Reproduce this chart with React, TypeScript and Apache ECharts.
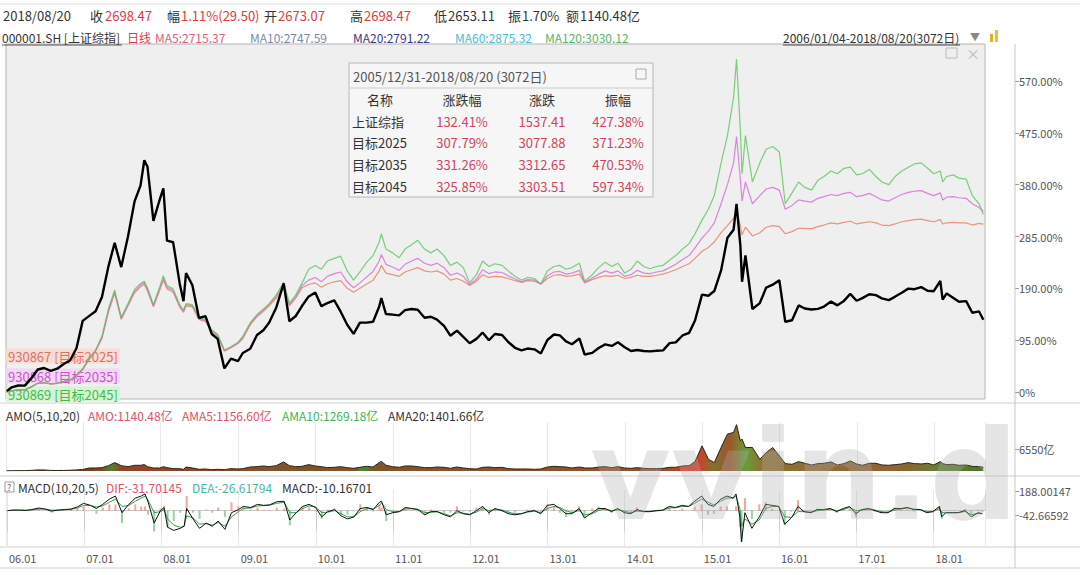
import React, { useEffect, useRef } from 'react';
import * as echarts from 'echarts';

// ---------------- data ----------------
const dates = [
  '2006-01-04','2006-01-27','2006-02-28','2006-03-31','2006-04-28','2006-05-31','2006-06-30','2006-07-31','2006-08-31','2006-09-29','2006-10-31','2006-11-30','2006-12-29',
  '2007-01-31','2007-02-28','2007-03-30','2007-04-30','2007-05-29','2007-06-29','2007-07-31','2007-08-31','2007-09-28','2007-10-16','2007-10-31','2007-11-28','2007-12-28',
  '2008-01-14','2008-01-31','2008-02-29','2008-03-31','2008-04-18','2008-04-30','2008-05-30','2008-06-30','2008-07-31','2008-08-29','2008-09-26','2008-10-28','2008-11-28','2008-12-31',
  '2009-01-23','2009-02-27','2009-03-31','2009-04-30','2009-05-27','2009-06-30','2009-08-04','2009-08-31','2009-09-30','2009-10-30','2009-11-30','2009-12-31',
  '2010-01-29','2010-02-26','2010-03-31','2010-04-30','2010-05-31','2010-06-30','2010-07-30','2010-08-31','2010-09-30','2010-10-29','2010-11-08','2010-11-30','2010-12-31',
  '2011-01-31','2011-02-28','2011-03-31','2011-04-29','2011-05-31','2011-06-30','2011-07-29','2011-08-31','2011-09-30','2011-10-31','2011-11-30','2011-12-30',
  '2012-01-31','2012-02-29','2012-03-30','2012-04-27','2012-05-31','2012-06-29','2012-07-31','2012-08-31','2012-09-28','2012-10-31','2012-11-30','2012-12-31',
  '2013-01-31','2013-02-28','2013-03-29','2013-04-26','2013-05-31','2013-06-25','2013-07-31','2013-08-30','2013-09-30','2013-10-31','2013-11-29','2013-12-31',
  '2014-01-30','2014-02-28','2014-03-31','2014-04-30','2014-05-30','2014-06-30','2014-07-31','2014-08-29','2014-09-30','2014-10-31','2014-11-28','2014-12-31',
  '2015-01-30','2015-02-27','2015-03-31','2015-04-30','2015-05-29','2015-06-12','2015-06-30','2015-07-08','2015-07-24','2015-08-26','2015-09-30','2015-10-30','2015-11-30','2015-12-31',
  '2016-01-28','2016-02-29','2016-03-31','2016-04-29','2016-05-31','2016-06-30','2016-07-29','2016-08-31','2016-09-30','2016-10-31','2016-11-30','2016-12-30',
  '2017-01-26','2017-02-28','2017-03-31','2017-04-28','2017-05-31','2017-06-30','2017-07-31','2017-08-31','2017-09-29','2017-10-31','2017-11-30','2017-12-29',
  '2018-01-29','2018-02-09','2018-02-28','2018-03-30','2018-04-27','2018-05-31','2018-06-29','2018-07-31','2018-08-20',
];

// 上证综指 cumulative change (%)
const sse = [
  1.6, 8.4, 11.9, 11.8, 24.0, 41.3, 44.0, 38.8, 42.8, 50.9, 58.2, 80.8, 130.4,
  140.0, 148.1, 174.1, 230.8, 273.3, 229.0, 285.1, 349.4, 378.2, 424.7, 412.8, 313.7, 353.2,
  373.4, 277.5, 274.5, 199.1, 166.5, 218.1, 195.7, 135.6, 139.1, 106.4, 97.5, 43.3, 61.1, 56.8,
  71.5, 79.3, 104.4, 113.3, 126.8, 154.9, 199.0, 129.7, 139.3, 158.0, 175.2, 182.2,
  157.4, 162.8, 167.9, 147.2, 123.2, 106.5, 127.2, 127.2, 128.8, 156.6, 172.1, 142.9, 141.8,
  140.4, 150.2, 152.2, 150.7, 136.2, 137.9, 132.6, 121.2, 103.2, 112.6, 100.9, 89.4,
  97.4, 109.1, 94.8, 106.4, 104.4, 91.7, 81.1, 76.3, 79.7, 78.2, 70.5, 95.4,
  105.4, 103.8, 92.7, 87.6, 98.1, 68.7, 71.7, 80.7, 87.3, 84.5, 91.2, 82.2,
  75.1, 77.1, 75.1, 74.5, 75.6, 76.4, 89.6, 90.9, 103.6, 108.4, 131.1, 178.6,
  176.5, 185.1, 222.8, 282.6, 297.2, 344.9, 268.4, 202.1, 250.5, 152.1, 163.0, 191.4, 196.7, 204.8,
  128.8, 131.5, 158.7, 153.0, 151.2, 152.4, 156.6, 165.7, 158.8, 167.0, 179.9, 167.3,
  172.1, 179.2, 177.6, 171.7, 168.5, 174.9, 181.9, 189.5, 188.4, 192.2, 185.7, 184.8,
  203.5, 169.5, 180.7, 172.9, 165.4, 166.6, 145.2, 147.7, 132.41,
];

// 930867 目标2025 (%)
const t2025 = [
  0, 2, 4, 4, 9, 16, 17, 15, 16, 19, 21, 29, 41,
  61, 75, 98, 147, 181, 133, 158, 182, 193, 197, 185, 156, 187,
  205, 189, 183, 156, 146, 158, 156, 133, 129, 110, 102, 75, 81, 89,
  98, 123, 138, 148, 158, 172, 193, 158, 172, 191, 197, 200,
  192, 198, 202, 204, 190, 183, 190, 198, 205, 222, 232, 218, 215,
  212, 220, 224, 228, 222, 220, 222, 216, 205, 208, 203, 195,
  203, 215, 210, 212, 211, 208, 204, 201, 204, 203, 198, 208,
  214, 215, 212, 213, 216, 200, 206, 210, 213, 212, 214, 208,
  210, 214, 212, 212, 214, 216, 220, 224, 230, 235, 245, 258,
  265, 275, 292, 305, 318, 332, 305, 288, 302, 286, 292, 302, 305, 303,
  290, 294, 300, 300, 299, 303, 306, 310, 308, 311, 313, 308,
  310, 312, 310, 306, 305, 308, 312, 314, 316, 317, 314, 312,
  316, 308, 310, 311, 310, 310, 306, 309, 307.79,
];

// 930868 目标2035 (%)
const t2035 = [
  0, 2, 4, 4, 9, 16, 17, 15, 16, 19, 22, 30, 42,
  62, 76, 100, 150, 184, 135, 160, 185, 196, 200, 188, 158, 190,
  209, 192, 186, 158, 148, 160, 158, 135, 131, 112, 104, 76, 82, 90,
  100, 125, 140, 150, 160, 175, 197, 160, 175, 195, 205, 210,
  202, 212, 217, 220, 202, 191, 200, 211, 221, 240, 252, 234, 229,
  223, 234, 240, 245, 236, 232, 236, 228, 214, 218, 212, 197,
  207, 224, 217, 220, 219, 213, 207, 202, 206, 205, 198, 213,
  220, 221, 216, 218, 223, 201, 209, 216, 222, 218, 222, 212,
  215, 223, 218, 217, 220, 222, 228, 234, 243, 250, 264, 282,
  295, 310, 345, 380, 420, 468, 390, 350, 385, 345, 360, 372, 375, 370,
  335, 342, 352, 350, 348, 355, 358, 362, 360, 364, 366, 358,
  360, 364, 358, 352, 350, 356, 362, 366, 368, 369, 364, 360,
  365, 352, 357, 358, 356, 355, 345, 338, 331.26,
];

// 930869 目标2045 (%)
const t2045 = [
  0, 2, 4, 4, 9, 16, 17, 15, 16, 19, 22, 31, 43,
  63, 77, 102, 153, 187, 137, 162, 188, 199, 203, 191, 160, 193,
  213, 195, 189, 160, 150, 162, 160, 137, 133, 114, 106, 77, 83, 91,
  102, 127, 142, 152, 162, 178, 201, 163, 178, 200, 225, 232,
  225, 240, 245, 249, 222, 205, 220, 238, 250, 275, 290, 262, 255,
  246, 262, 270, 278, 262, 255, 262, 250, 232, 238, 228, 200,
  215, 240, 230, 235, 232, 222, 212, 205, 210, 208, 198, 222,
  230, 232, 225, 228, 236, 203, 215, 228, 238, 230, 236, 218,
  225, 240, 230, 226, 230, 232, 242, 250, 262, 272, 290, 315,
  335, 360, 420, 470, 540, 610, 480, 400, 470, 385, 420, 445, 450, 440,
  345, 365, 385, 375, 370, 388, 395, 405, 400, 410, 412, 398,
  400, 408, 395, 385, 380, 395, 405, 412, 418, 420, 410, 400,
  405, 385, 395, 398, 392, 390, 360, 345, 325.85,
];

// AMO turnover (亿)
const amo = [
  60, 80, 110, 100, 170, 330, 300, 180, 150, 170, 220, 330, 450,
  900, 900, 1000, 1600, 2500, 1600, 1300, 1700, 1700, 1900, 1300, 900, 900,
  1300, 1000, 700, 700, 500, 1200, 900, 500, 600, 400, 500, 400, 700, 600,
  700, 1200, 1300, 1500, 1300, 1600, 2700, 1600, 1300, 1400, 1900, 1500,
  1300, 1000, 1100, 1300, 1000, 800, 1100, 1400, 1200, 2500, 2900, 1700, 1300,
  1100, 1500, 1500, 1300, 1000, 1000, 1200, 1100, 800, 1200, 900, 700,
  600, 1100, 1200, 1000, 1100, 700, 600, 600, 600, 500, 600, 1200,
  1400, 1300, 1200, 900, 1200, 900, 900, 1200, 1300, 1000, 1300, 900,
  800, 1000, 800, 700, 700, 800, 1100, 1100, 1500, 1600, 2800, 7500,
  3500, 2500, 7000, 11000, 11500, 13800, 9000, 9500, 7000, 7000, 3500, 5500, 7000, 4500,
  2200, 2000, 2800, 2300, 1800, 2200, 2300, 2700, 1800, 2200, 3000, 2100,
  1700, 2300, 2300, 1800, 1700, 1900, 2100, 2500, 2200, 2100, 2300, 1800,
  2800, 2200, 1900, 2000, 1700, 1800, 1400, 1300, 1140.48,
];

// MACD(10,20,5)
const dif = [
  0, 5, 5, 2, 10, 25, 15, -5, 5, 10, 15, 35, 70,
  50, 20, 60, 110, 140, -20, 60, 120, 140, 160, 80, -120, 0,
  30, -160, -190, -170, -150, 20, -80, -170, -120, -150, -100, -180, -20, 10,
  40, 30, 60, 50, 55, 85, 90, -90, -20, 40, 60, 30,
  -60, -10, 10, -50, -80, -60, 20, 30, 10, 80, 90, -40, -20,
  -10, 30, 20, 10, -40, -10, -10, -40, -60, 0, -30, -40,
  0, 40, -20, 20, 0, -30, -40, -30, -10, 0, -30, 50,
  60, 20, -30, -30, 20, -70, -20, 20, 20, -10, 20, -20,
  -30, 10, -10, -10, 0, 5, 40, 30, 50, 40, 90, 140,
  60, 40, 110, 140, 120, 160, -60, -300, -20, -170, -60, 60, 50, 40,
  -130, -70, 40, -10, -20, 10, 10, 20, -10, 20, 40, -30,
  10, 20, 0, -20, -20, 20, 20, 30, 10, 10, -20, -10,
  40, -60, -20, -20, -20, 0, -60, -20, -31.70145,
];
const dea = [
  0, 3, 4, 3, 6, 15, 15, 5, 5, 8, 12, 25, 50,
  50, 35, 45, 80, 110, 40, 50, 90, 120, 140, 100, -20, -10,
  10, -80, -140, -160, -150, -50, -70, -130, -125, -140, -115, -150, -60, -10,
  20, 25, 45, 48, 52, 70, 80, -20, -20, 20, 45, 35,
  -20, -15, 0, -30, -60, -60, -10, 20, 15, 50, 75, 10, -10,
  -10, 15, 18, 12, -20, -15, -10, -30, -50, -20, -25, -35,
  -15, 20, 0, 10, 5, -15, -30, -30, -15, -5, -20, 20,
  40, 30, 0, -20, 0, -40, -30, 0, 15, 0, 10, -5,
  -20, -5, -8, -8, -3, 2, 25, 28, 40, 40, 70, 110,
  80, 55, 90, 120, 120, 140, 20, -150, -80, -130, -90, 20, 40, 40,
  -60, -65, -10, -10, -15, 0, 5, 15, 0, 10, 30, 0,
  5, 15, 5, -10, -15, 5, 15, 25, 15, 10, -10, -10,
  20, -20, -20, -20, -20, -8, -40, -25, -26.61794,
];
const macd = [
  0, 4, 2, -2, 8, 20, 0, -20, 0, 4, 6, 20, 40,
  0, -30, 30, 60, 60, -120, 20, 60, 40, 40, -40, -200, 20,
  40, -160, -100, -20, 0, 140, -20, -80, 10, -20, 30, -60, 80, 40,
  40, 10, 30, 4, 6, 30, 20, -140, 0, 40, 30, -10,
  -80, 10, 20, -40, -40, 0, 60, 20, -10, 60, 30, -100, -20,
  0, 30, 4, -4, -40, 10, 0, -20, -20, 40, -10, -10,
  30, 40, -40, 20, -10, -30, -20, 0, 10, 10, -20, 60,
  40, -20, -60, -20, 40, -60, 20, 40, 10, -20, 20, -30,
  -20, 30, -4, -4, 6, 6, 30, 4, 20, 0, 40, 60,
  -40, -30, 40, 40, 0, 40, -160, -300, 120, -80, 60, 80, 20, 0,
  -140, -10, 100, 0, -10, 20, 10, 10, -20, 20, 20, -60,
  10, 10, -10, -20, -10, 30, 10, 10, -10, 0, -20, 0,
  40, -80, 0, 0, 0, 16, -40, 10, -10.16701,
];

const mainTicks = [0, 95, 190, 285, 380, 475, 570];
const amoTicks = [6550];
const macdTicks = [188.00147, -42.66592];

const tableRows = [
  ['上证综指', '132.41%', '1537.41', '427.38%'],
  ['目标2025', '307.79%', '3077.88', '371.23%'],
  ['目标2035', '331.26%', '3312.65', '470.53%'],
  ['目标2045', '325.85%', '3303.51', '597.34%'],
];

// ---------------- helpers ----------------
const FONT = "'Noto Sans CJK SC', 'DejaVu Sans', sans-serif";
const RED = '#e0393e';
const DARK = '#333333';

function txt(x: number, y: number, text: string, fill: string, size = 13, extra: any = {}, z = 20) {
  return {
    type: 'text', x, y, z, silent: true,
    style: {
      text, fill, fontSize: size, fontFamily: FONT,
      textVerticalAlign: 'middle', verticalAlign: 'middle',
      ...extra,
    },
  };
}
function hline(x1: number, x2: number, y: number, stroke = '#cfcfcf', z = 15) {
  return { type: 'line', z, silent: true, shape: { x1, y1: y, x2, y2: y }, style: { stroke, lineWidth: 1 } };
}
function vline(x: number, y1: number, y2: number, stroke = '#cfcfcf', z = 15) {
  return { type: 'line', z, silent: true, shape: { x1: x, y1, x2: x, y2 }, style: { stroke, lineWidth: 1 } };
}

const pair = (arr: number[]) => dates.map((d, i) => [d, arr[i]]);

export default function App() {
  const ref = useRef<HTMLDivElement>(null);
  useEffect(() => {
    if (!ref.current) return;
    const chart = echarts.init(ref.current, null, { renderer: 'svg' });
    const xMin = new Date(2006, 0, 1).getTime();
    const xMax = new Date(2018, 7, 28).getTime();
    const YEAR = 365 * 24 * 3600 * 1000;

    const baseX = (gridIndex: number, showLabels: boolean, split: boolean) => ({
      type: 'time', gridIndex, min: xMin, max: xMax,
      minInterval: YEAR, maxInterval: YEAR + 2 * 24 * 3600 * 1000,
      axisLine: { show: showLabels, lineStyle: { color: '#cccccc' } },
      axisTick: { show: showLabels, length: 21, lineStyle: { color: '#d0d0d0' } },
      axisLabel: {
        show: showLabels, align: 'left', margin: 6, padding: [0, 0, 0, 2],
        color: '#555', fontSize: 11, fontFamily: FONT, showMaxLabel: false,
        formatter: (v: number) => String(new Date(v).getFullYear()).slice(2) + '.01',
      },
      splitLine: { show: split, lineStyle: { color: '#e8e8e8' } },
    });

    const baseY = (gridIndex: number, min: number, max: number, ticks: number[], fmt: (v: number) => string) => ({
      type: 'value', gridIndex, position: 'right', offset: 30, min, max,
      axisLine: { show: false },
      axisTick: { show: true, length: 4, customValues: ticks, lineStyle: { color: '#999' } },
      axisLabel: { show: true, customValues: ticks, formatter: fmt, color: '#555', fontSize: 11, fontFamily: FONT, margin: 4 },
      splitLine: { show: false },
    });

    const graphic: any[] = [];
    // top separator and header rows
    graphic.push(hline(0, 1080, 4, '#dddddd'));
    graphic.push(txt(3, 15, '2018/08/20', DARK));
    graphic.push(txt(90, 15, '收', DARK));
    graphic.push(txt(105, 15, '2698.47', RED));
    graphic.push(txt(167, 15, '幅', DARK));
    graphic.push(txt(181, 15, '1.11%(29.50)', RED));
    graphic.push(txt(264, 15, '开', DARK));
    graphic.push(txt(278, 15, '2673.07', RED));
    graphic.push(txt(350, 15, '高', DARK));
    graphic.push(txt(364, 15, '2698.47', RED));
    graphic.push(txt(434, 15, '低', DARK));
    graphic.push(txt(448, 15, '2653.11', DARK));
    graphic.push(txt(508, 15, '振', DARK));
    graphic.push(txt(522, 15, '1.70%', DARK));
    graphic.push(txt(566, 15, '额', DARK));
    graphic.push(txt(580, 15, '1140.48亿', DARK));

    graphic.push(txt(2, 37, '000001.SH [上证综指]', DARK, 12));
    graphic.push(hline(2, 122, 45, '#555555', 16));
    graphic.push(txt(127, 37, '日线', '#e03a3a', 12));
    graphic.push(txt(155, 37, 'MA5:2715.37', '#e0607a', 12));
    graphic.push(txt(250, 37, 'MA10:2747.59', '#7c8aa8', 12));
    graphic.push(txt(353, 37, 'MA20:2791.22', '#38388a', 12));
    graphic.push(txt(455, 37, 'MA60:2875.32', '#44c0d4', 12));
    graphic.push(txt(545, 37, 'MA120:3030.12', '#56b46a', 12));
    graphic.push(txt(783, 37, '2006/01/04-2018/08/20(3072日)', DARK, 12));
    graphic.push(hline(783, 960, 45, '#444444', 16));
    graphic.push(txt(970, 36, '▼', '#888888', 10));
    graphic.push({ type: 'rect', z: 20, silent: true, shape: { x: 990, y: 34, width: 3, height: 8 }, style: { fill: '#e0b020' } });
    graphic.push({ type: 'rect', z: 20, silent: true, shape: { x: 995, y: 30, width: 3, height: 12 }, style: { fill: '#e8c040' } });

    // close icons inside main plot
    graphic.push({ type: 'rect', z: 20, silent: true, shape: { x: 946, y: 48, width: 11, height: 10 }, style: { fill: 'none', stroke: '#bbbbbb' } });
    graphic.push(txt(966, 53, '×', '#bbbbbb', 14));

    // stats table
    graphic.push({ type: 'rect', z: 30, silent: true, shape: { x: 349, y: 63, width: 304, height: 134 }, style: { fill: '#f6f6f6', stroke: '#b8b8b8', lineWidth: 1 } });
    graphic.push(hline(349, 653, 88, '#cccccc', 31));
    graphic.push(txt(353, 76, '2005/12/31-2018/08/20 (3072日)', '#555555', 13, {}, 32));
    graphic.push({ type: 'rect', z: 32, silent: true, shape: { x: 636, y: 69, width: 10, height: 10 }, style: { fill: 'none', stroke: '#aaaaaa' } });
    const colX = [380, 462, 542, 618];
    const heads = ['名称', '涨跌幅', '涨跌', '振幅'];
    heads.forEach((h, i) => graphic.push(txt(colX[i], 99, h, DARK, 13, { textAlign: 'center', align: 'center' }, 32)));
    const rowY = [121, 142, 164, 186];
    tableRows.forEach((row, r) => {
      graphic.push(txt(352, rowY[r], row[0], DARK, 13, {}, 32));
      for (let c = 1; c < 4; c++) {
        graphic.push(txt(colX[c], rowY[r], row[c], '#d0455a', 13, { textAlign: 'center', align: 'center' }, 32));
      }
    });

    // bottom-left legend labels (under the lines)
    graphic.push(txt(6, 356, '930867 [目标2025]', '#e07060', 13, { backgroundColor: '#f8dcd6', padding: [1, 2] }, 1));
    graphic.push(txt(6, 376, '930868 [目标2035]', '#cc55cc', 13, { backgroundColor: '#f3d6f3', padding: [1, 2] }, 1));
    graphic.push(txt(6, 394, '930869 [目标2045]', '#44bb44', 13, { backgroundColor: '#d4f4d4', padding: [1, 2] }, 1));

    // panel separators
    graphic.push(hline(0, 1080, 403));
    graphic.push(hline(0, 1080, 476));
    graphic.push(hline(0, 1080, 547));
    graphic.push(hline(0, 1080, 568));
    graphic.push(vline(1015, 44, 568, '#c8c8c8'));

    // AMO header
    graphic.push(txt(6, 415, 'AMO(5,10,20)', DARK, 12));
    graphic.push(txt(88, 415, 'AMO:1140.48亿', '#e0506a', 12));
    graphic.push(txt(182, 415, 'AMA5:1156.60亿', '#e0506a', 12));
    graphic.push(txt(282, 415, 'AMA10:1269.18亿', '#3cb45a', 12));
    graphic.push(txt(388, 415, 'AMA20:1401.66亿', DARK, 12));

    // MACD header
    graphic.push({ type: 'rect', z: 20, silent: true, shape: { x: 5, y: 482, width: 9, height: 10 }, style: { fill: 'none', stroke: '#999999' } });
    graphic.push(txt(7, 487, '?', '#666666', 9));
    graphic.push(txt(18, 487, 'MACD(10,20,5)', DARK, 12));
    graphic.push(txt(106, 487, 'DIF:-31.70145', '#e0506a', 12));
    graphic.push(txt(192, 487, 'DEA:-26.61794', '#4cb8a0', 12));
    graphic.push(txt(282, 487, 'MACD:-10.16701', DARK, 12));

    // watermark
    graphic.push({
      type: 'text', x: 590, y: 538, z: 100, silent: true, scaleY: 1.0,
      style: {
        text: 'vvin.d', fill: 'rgba(175,175,175,0.32)', fontSize: 124, fontWeight: 'bold',
        fontFamily: "'DejaVu Sans', sans-serif", textVerticalAlign: 'bottom', verticalAlign: 'bottom',
      },
    });

    const option: any = {
      animation: false,
      backgroundColor: '#ffffff',
      textStyle: { fontFamily: FONT },
      grid: [
        { left: 6, top: 44, width: 979, height: 355, show: true, backgroundColor: '#efefef', borderColor: '#b4b4b4', borderWidth: 1 },
        { left: 6, top: 422, width: 979, height: 49 },
        { left: 6, top: 490, width: 979, height: 56 },
      ],
      xAxis: [baseX(0, false, false), baseX(1, false, true), baseX(2, true, true)],
      yAxis: [
        baseY(0, -12.8, 637.8, mainTicks, (v: number) => (v === 0 ? '0%' : v.toFixed(2) + '%')),
        baseY(1, 0, 14600, amoTicks, (v: number) => v + '亿'),
        baseY(2, -340, 198, macdTicks, (v: number) => v.toFixed(5)),
      ],
      series: [
        { type: 'line', name: '目标2025', xAxisIndex: 0, yAxisIndex: 0, data: pair(t2025), symbol: 'none', z: 3,
          lineStyle: { color: '#e8836c', width: 1.2, opacity: 0.85 } },
        { type: 'line', name: '目标2035', xAxisIndex: 0, yAxisIndex: 0, data: pair(t2035), symbol: 'none', z: 3,
          lineStyle: { color: '#d46ad4', width: 1.2, opacity: 0.8 } },
        { type: 'line', name: '目标2045', xAxisIndex: 0, yAxisIndex: 0, data: pair(t2045), symbol: 'none', z: 3,
          lineStyle: { color: '#5cc45c', width: 1.2, opacity: 0.8 } },
        { type: 'line', name: '上证综指', xAxisIndex: 0, yAxisIndex: 0, data: pair(sse), symbol: 'none', z: 5,
          lineStyle: { color: '#000000', width: 2.4 } },
        { type: 'line', name: 'AMO', xAxisIndex: 1, yAxisIndex: 1, data: pair(amo), symbol: 'none', z: 3,
          lineStyle: { color: '#2b2416', width: 1 },
          areaStyle: {
            opacity: 0.95,
            color: {
              type: 'linear', x: 0, y: 0, x2: 1, y2: 0,
              colorStops: [
                { offset: 0, color: '#5a2e16' },
                { offset: 0.096, color: '#7a3a1a' },
                { offset: 0.107, color: '#4a7a2a' },
                { offset: 0.117, color: '#8a3a1c' },
                { offset: 0.281, color: '#7a4a20' },
                { offset: 0.358, color: '#7a4a20' },
                { offset: 0.365, color: '#3c8a2c' },
                { offset: 0.375, color: '#7a4a20' },
                { offset: 0.68, color: '#8a4a22' },
                { offset: 0.691, color: '#d82a18' },
                { offset: 0.711, color: '#c83a1c' },
                { offset: 0.723, color: '#7a6a28' },
                { offset: 0.74, color: '#9a4a22' },
                { offset: 0.757, color: '#5a9a2a' },
                { offset: 0.773, color: '#8a6a2a' },
                { offset: 0.916, color: '#8a5a28' },
                { offset: 0.957, color: '#5a7a28' },
                { offset: 1, color: '#4a6a22' },
              ],
            },
          } },
        { type: 'bar', name: 'MACD', xAxisIndex: 2, yAxisIndex: 2, data: pair(macd), barWidth: 2, z: 2,
          itemStyle: { opacity: 0.5, color: (p: any) => (p.value[1] >= 0 ? '#e84a3a' : '#2fa84a') } },
        { type: 'line', name: 'DEA', xAxisIndex: 2, yAxisIndex: 2, data: pair(dea), symbol: 'none', z: 3,
          lineStyle: { color: '#3c9a50', width: 1 } },
        { type: 'line', name: 'DIF', xAxisIndex: 2, yAxisIndex: 2, data: pair(dif), symbol: 'none', z: 4,
          lineStyle: { color: '#111111', width: 1 } },
      ],
      graphic,
    };
    chart.setOption(option);
    return () => chart.dispose();
  }, []);
  return <div ref={ref} style={{ position: 'fixed', left: 0, top: 0, width: 1080, height: 575, background: '#fff' }} />;
}
